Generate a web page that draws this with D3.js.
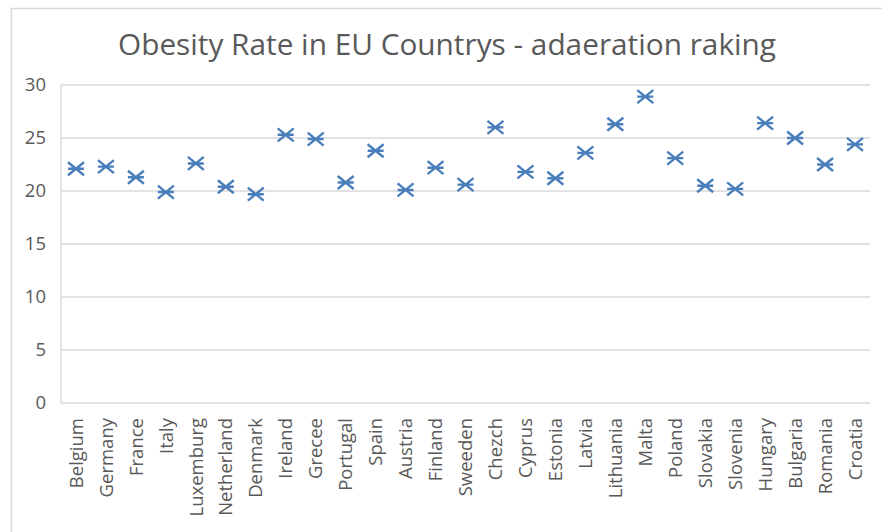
<!DOCTYPE html>
<html>
<head>
<meta charset="utf-8">
<script src="https://cdn.jsdelivr.net/npm/d3@7"></script>
<style>
  html, body { margin: 0; padding: 0; background: #fff; }
  svg { display: block; font-family: "Open Sans", "DejaVu Sans", sans-serif; }
</style>
</head>
<body>
<svg id="chart" width="882" height="532"></svg>
<script>
// Obesity rate (%) by EU country
const countries = ["Belgium", "Germany", "France", "Italy", "Luxemburg", "Netherland", "Denmark",
  "Ireland", "Grecee", "Portugal", "Spain", "Austria", "Finland", "Sweeden", "Chezch", "Cyprus",
  "Estonia", "Latvia", "Lithuania", "Malta", "Poland", "Slovakia", "Slovenia", "Hungary",
  "Bulgaria", "Romania", "Croatia"];
const obesityRates = [22.1, 22.3, 21.3, 19.9, 22.6, 20.4, 19.7,
  25.3, 24.9, 20.8, 23.8, 20.1, 22.2, 20.6, 26.0, 21.8,
  21.2, 23.6, 26.3, 28.9, 23.1, 20.5, 20.2, 26.4,
  25.0, 22.5, 24.4];
const yTicks = [0, 5, 10, 15, 20, 25, 30];
const chartTitle = "Obesity Rate in EU Countrys - adaeration raking";

const svg = d3.select("#chart");
const W = 882, H = 532;
const plot = { left: 61, right: 870, top: 85, bottom: 403 };
const textColor = "#595959";
const gridColor = "#d9d9d9";
const markerColor = "#4a7ebb";

svg.append("rect").attr("width", W).attr("height", H).attr("fill", "#fff");

// chart frame (runs off the right and bottom edges)
svg.append("path")
  .attr("d", `M11.5,${H + 2} V8.5 H${W + 2}`)
  .attr("fill", "none").attr("stroke", gridColor).attr("stroke-width", 1.5);

const x = d3.scaleBand().domain(countries).range([plot.left, plot.right]);
const y = d3.scaleLinear().domain([0, 30]).range([plot.bottom, plot.top]);

// horizontal gridlines
svg.append("g").selectAll("line").data(yTicks).join("line")
  .attr("x1", plot.left).attr("x2", plot.right)
  .attr("y1", d => y(d)).attr("y2", d => y(d))
  .attr("stroke", gridColor).attr("stroke-width", 1.5);

// vertical axis line
svg.append("line")
  .attr("x1", plot.left).attr("x2", plot.left)
  .attr("y1", y(30)).attr("y2", y(0))
  .attr("stroke", gridColor).attr("stroke-width", 1.5);

// y axis labels
const yAxis = d3.axisLeft(y).tickValues(yTicks).tickSize(0).tickPadding(15);
const gy = svg.append("g").attr("transform", `translate(${plot.left},0)`).call(yAxis);
gy.select(".domain").remove();
gy.selectAll("text").attr("fill", textColor).attr("font-size", 18.5)
  .attr("font-family", "'Open Sans', sans-serif");

// x axis labels, rotated
const xAxis = d3.axisBottom(x).tickSize(0).tickPadding(0);
const gx = svg.append("g").attr("transform", `translate(0,${plot.bottom})`).call(xAxis);
gx.select(".domain").remove();
gx.selectAll("text")
  .attr("fill", textColor).attr("font-size", 18.5)
  .attr("font-family", "'Open Sans', sans-serif")
  .attr("text-anchor", "end")
  .attr("transform", "rotate(-90)")
  .attr("x", -15).attr("y", 0).attr("dy", "0.36em");

// markers: x with a horizontal bar
const hw = 8, hh = 6.5;
const starPath = `M${-hw},${-hh}L${hw},${hh}M${-hw},${hh}L${hw},${-hh}M${-hw},0L${hw},0`;
svg.append("g").selectAll("path").data(countries).join("path")
  .attr("transform", (d, i) => `translate(${x(d) + x.bandwidth() / 2},${y(obesityRates[i])})`)
  .attr("d", starPath)
  .attr("fill", "none").attr("stroke", markerColor).attr("stroke-width", 2.4);

// title
svg.append("text")
  .attr("x", 447).attr("y", 55)
  .attr("text-anchor", "middle")
  .attr("fill", textColor)
  .attr("font-size", 30)
  .attr("textLength", 658).attr("lengthAdjust", "spacingAndGlyphs")
  .text(chartTitle);
</script>
</body>
</html>
